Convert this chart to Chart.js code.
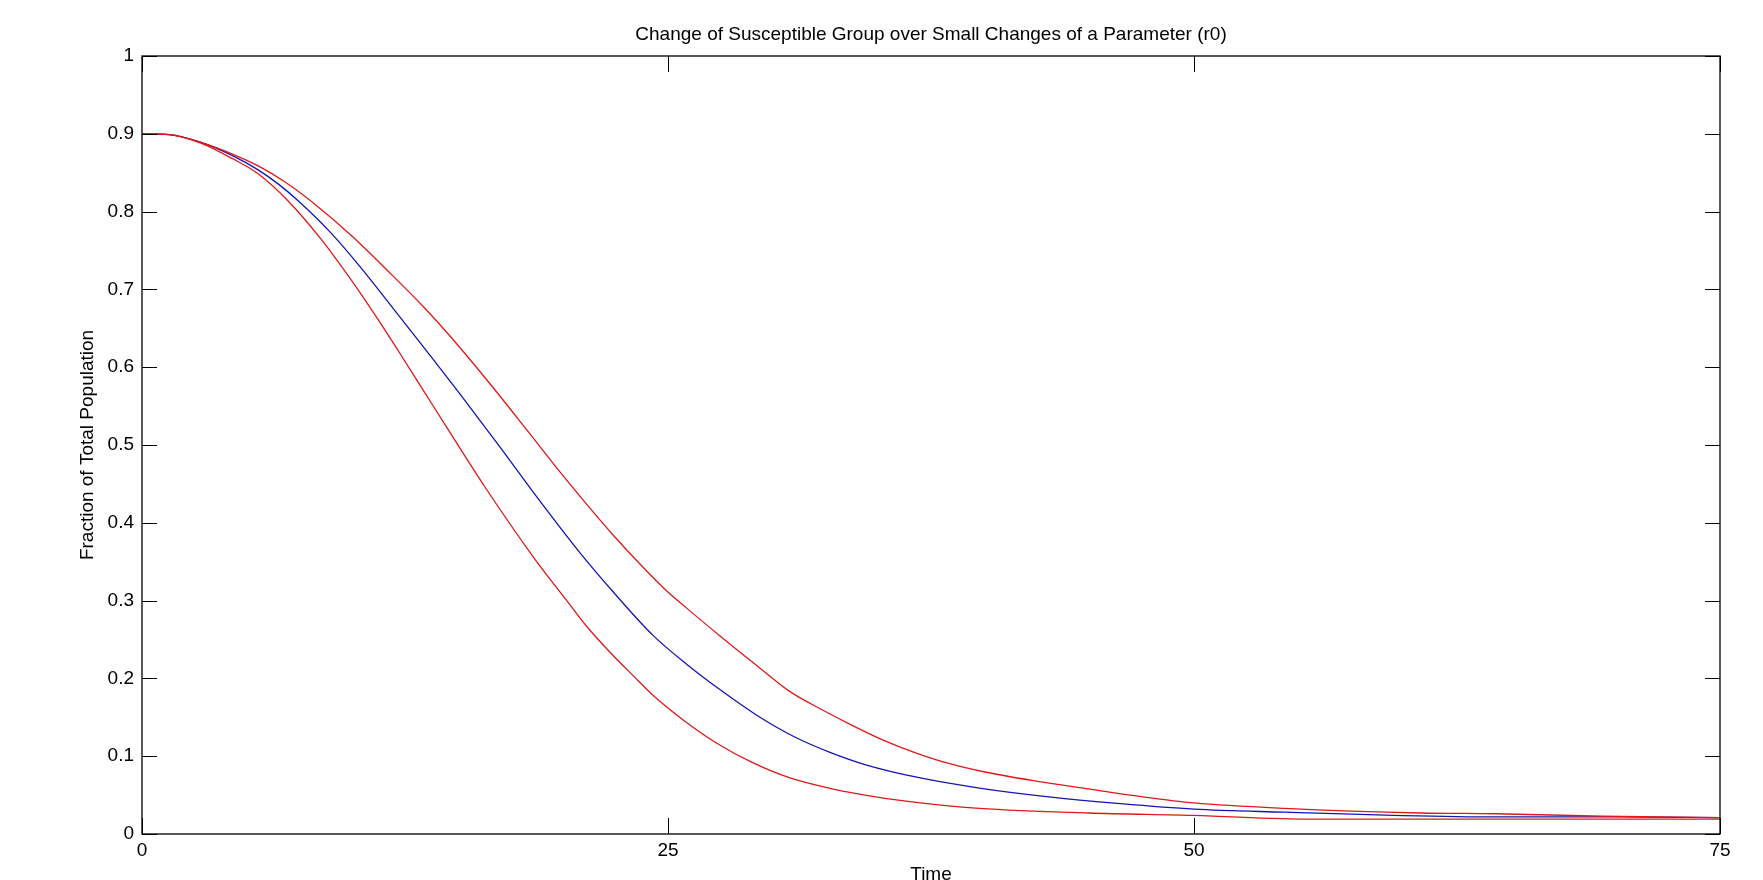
<!DOCTYPE html>
<html>
<head>
<meta charset="utf-8">
<script src="https://cdn.jsdelivr.net/npm/chart.js@4/dist/chart.umd.min.js"></script>
<style>
  body { margin: 0; background: #fff; }
  #wrap { width: 1763px; height: 880px; }
</style>
</head>
<body>
<div id="wrap"><canvas id="graph1" width="1763" height="880"></canvas></div>
<script>
// axis ticks
var xTicks = [0, 25, 50, 75]
var yTicks = [0, 0.1, 0.2, 0.3, 0.4, 0.5, 0.6, 0.7, 0.8, 0.9, 1]
var yTickLabels = ['0', '0.1', '0.2', '0.3', '0.4', '0.5', '0.6', '0.7', '0.8', '0.9', '1']

// nominal r0 (blue)
var blueT = [0, 1.3, 2.8, 4.3, 5.5, 6.5, 7.5, 9, 10.4, 12.3, 13.7, 15.1, 17, 18.8, 20.8, 22.4, 24.3, 25.9, 27.5, 29.2, 31, 32.7, 34.4, 37, 39.8, 43, 46.5, 50, 54.3, 59.5, 64.3, 70, 75]
var blueS = [0.9, 0.899, 0.889, 0.872, 0.854, 0.835, 0.812, 0.772, 0.728, 0.663, 0.615, 0.566, 0.498, 0.432, 0.362, 0.311, 0.255, 0.218, 0.185, 0.153, 0.125, 0.105, 0.089, 0.072, 0.059, 0.048, 0.039, 0.032, 0.028, 0.024, 0.022, 0.022, 0.021]

// r0 slightly lower (upper red)
var redHighT = [0, 1.3, 2.8, 4.3, 5.5, 6.8, 8.1, 10, 11.9, 13.4, 14.8, 16.5, 18.3, 19.7, 21.1, 22.4, 23.7, 24.8, 25.9, 27.5, 29.2, 30.8, 32.3, 33.8, 35.2, 36.7, 38.3, 40, 42.5, 45.2, 47.5, 50, 54.3, 60.8, 64.3, 69.4, 75]
var redHighS = [0.9, 0.899, 0.889, 0.874, 0.859, 0.838, 0.812, 0.768, 0.718, 0.677, 0.635, 0.580, 0.519, 0.471, 0.425, 0.384, 0.346, 0.316, 0.290, 0.254, 0.217, 0.183, 0.160, 0.139, 0.121, 0.105, 0.091, 0.080, 0.068, 0.057, 0.048, 0.040, 0.033, 0.027, 0.026, 0.023, 0.021]

// r0 slightly higher (lower red)
var redLowT = [0, 1.3, 2.8, 4.3, 5.5, 6.9, 8.5, 10, 11.2, 12.3, 13.4, 14.5, 16.3, 18.6, 20.3, 21.1, 22.3, 23.4, 24.3, 25.8, 27.3, 29, 30.8, 32.8, 34.8, 37, 39.8, 45, 50, 55.6, 60, 75]
var redLowS = [0.9, 0.899, 0.888, 0.868, 0.849, 0.815, 0.765, 0.710, 0.662, 0.616, 0.569, 0.522, 0.446, 0.356, 0.296, 0.268, 0.232, 0.202, 0.178, 0.145, 0.117, 0.092, 0.072, 0.058, 0.048, 0.040, 0.033, 0.027, 0.024, 0.019, 0.019, 0.019]

function pts(t, s) {
    return t.map(function (v, i) { return { x: v, y: s[i] } })
}

var font = "'Liberation Sans', Arial, sans-serif"

// box frame + inward tick marks on all four sides
var frame = {
    id: 'frame',
    afterDraw: function (chart) {
        var c = chart.ctx, a = chart.chartArea
        var xs = chart.scales.x, ys = chart.scales.y
        c.save()
        c.strokeStyle = '#000'
        c.lineWidth = 1.3
        c.strokeRect(a.left, a.top, a.right - a.left, a.bottom - a.top)
        c.beginPath()
        xTicks.forEach(function (v) {
            var px = Math.round(xs.getPixelForValue(v)) + 0.5
            c.moveTo(px, a.bottom); c.lineTo(px, a.bottom - 16)
            c.moveTo(px, a.top); c.lineTo(px, a.top + 16)
        })
        yTicks.forEach(function (v) {
            var py = Math.round(ys.getPixelForValue(v)) + 0.5
            c.moveTo(a.left, py); c.lineTo(a.left + 15, py)
            c.moveTo(a.right, py); c.lineTo(a.right - 15, py)
        })
        c.lineWidth = 1
        c.stroke()
        c.restore()
    }
}

var ctx = document.getElementById('graph1').getContext('2d')

var data = {
    datasets: [
        { label: 'r0 low', data: pts(redHighT, redHighS), borderColor: '#e01818', borderWidth: 1.3 },
        { label: 'r0 high', data: pts(redLowT, redLowS), borderColor: '#e01818', borderWidth: 1.3 },
        { label: 'r0', data: pts(blueT, blueS), borderColor: '#1414b4', borderWidth: 1.3 }
    ]
}

var options = {
    responsive: false,
    animation: false,
    devicePixelRatio: 1,
    layout: { padding: { left: 0, right: 43, top: 0, bottom: 0 } },
    elements: { point: { radius: 0 }, line: { cubicInterpolationMode: 'monotone', fill: false } },
    plugins: {
        legend: { display: false },
        tooltip: { enabled: false },
        title: { display: false }
    },
    scales: {
        x: {
            type: 'linear',
            min: 0, max: 75,
            afterBuildTicks: function (s) { s.ticks = xTicks.map(function (v) { return { value: v } }) },
            afterFit: function (s) { s.height = 46 },
            grid: { display: false, drawTicks: false },
            border: { display: false },
            ticks: { color: '#000', padding: 5, maxRotation: 0, font: { family: font, size: 19 } },
            title: {
                display: true, text: 'Time', color: '#000',
                font: { family: font, size: 19, lineHeight: 1 },
                padding: { top: 0, bottom: -4.5 }
            }
        },
        // top axis only carries the chart title, centred over the plot box
        top: {
            type: 'linear',
            position: 'top',
            min: 0, max: 75,
            afterFit: function (s) { s.height = 56 },
            grid: { display: false, drawTicks: false },
            border: { display: false },
            ticks: { display: false },
            title: {
                display: true,
                text: 'Change of Susceptible Group over Small Changes of a Parameter (r0)',
                color: '#000',
                font: { family: font, size: 19, lineHeight: 1 },
                padding: { top: 25.5, bottom: 0 }
            }
        },
        y: {
            type: 'linear',
            min: 0, max: 1,
            afterBuildTicks: function (s) { s.ticks = yTicks.map(function (v) { return { value: v } }) },
            afterFit: function (s) { s.width = 142 },
            grid: { display: false, drawTicks: false },
            border: { display: false },
            ticks: {
                color: '#000', padding: 8, font: { family: font, size: 19 },
                callback: function (v) { return yTickLabels[yTicks.indexOf(v)] }
            },
            title: {
                display: true, text: 'Fraction of Total Population', color: '#000',
                font: { family: font, size: 19, lineHeight: 1 },
                padding: { top: 78.5, bottom: 0 }
            }
        }
    }
}

var config = {
    type: 'line',
    data: data,
    options: options,
    plugins: [frame]
}

var graph1 = new Chart(ctx, config)
</script>
</body>
</html>
